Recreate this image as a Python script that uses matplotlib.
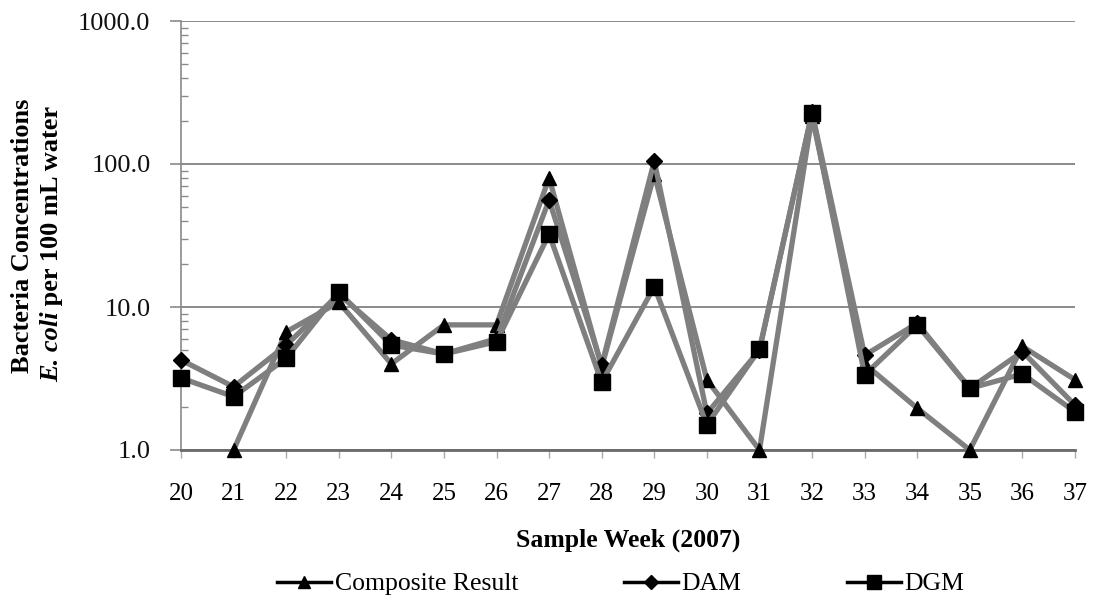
import numpy as np
import matplotlib
matplotlib.use("Agg")
import matplotlib.pyplot as plt
from matplotlib.lines import Line2D
from matplotlib.ticker import FixedLocator, FuncFormatter, LogLocator, NullFormatter

plt.rcParams['font.family'] = ['Liberation Serif', 'DejaVu Serif']

weeks = list(range(20, 38))
composite = [np.nan, 1.0, 6.7, 10.8, 4.0, 7.5, 7.5, 80, 3.8, 85, 3.1, 1.0, 215, 4.0, 1.96, 1.0, 5.3, 3.1]
dam = [4.26, 2.77, 5.4, 12.3, 5.9, 4.7, 6.0, 56, 3.93, 105, 1.8, 5.0, 230, 4.6, 7.7, 2.7, 4.87, 2.06]
dgm = [3.19, 2.36, 4.38, 12.7, 5.42, 4.69, 5.72, 32.4, 2.97, 13.9, 1.5, 5.06, 226, 3.35, 7.5, 2.7, 3.4, 1.85]
series_names = ["Composite Result", "DAM", "DGM"]
yticks = [1, 10, 100, 1000]

W, H = 1095, 605
fig = plt.figure(figsize=(W/100, H/100), dpi=100)
ax = fig.add_axes([181/W, 1-450/H, 894/W, 429/H])

line_col = '#7f7f7f'
specs = [(composite, '^', 10), (dam, 'D', 8), (dgm, 's', 11)]
for vals, mk, ms in specs:
    ax.plot(weeks, vals, color=line_col, lw=3.8, marker=mk, markersize=ms,
            markerfacecolor='black', markeredgecolor='black', zorder=3, clip_on=False)

ax.set_yscale('log')
ax.set_ylim(1, 1000)
ax.set_xlim(20, 37)
ax.yaxis.set_major_locator(FixedLocator(yticks))
ax.yaxis.set_major_formatter(FuncFormatter(lambda v, p: f"{v:.1f}"))
ax.yaxis.set_minor_locator(LogLocator(base=10, subs=np.arange(2, 10)))
ax.yaxis.set_minor_formatter(NullFormatter())
ax.set_xticks(weeks)
ax.set_xticklabels([str(w) for w in weeks])

ax.grid(axis='y', which='major', color='#8a8a8a', lw=1.4, zorder=1)
for s in ['top', 'right']:
    ax.spines[s].set_visible(False)
ax.spines['left'].set_color('#8a8a8a')
ax.spines['left'].set_linewidth(1.2)
ax.spines['bottom'].set_color('#6a6a6a')
ax.spines['bottom'].set_linewidth(2.0)

ax.tick_params(axis='y', which='major', length=8, width=1.2, color='#8a8a8a', labelsize=19, pad=14, direction='out')
ax.tick_params(axis='y', which='minor', length=5, width=1.0, color='#8a8a8a', direction='in')
ax.tick_params(axis='x', which='major', length=6, width=1.0, color='#aaaaaa', labelsize=18, pad=18)

for lbl in ax.get_yticklabels():
    lbl.set_color('#111111')

fig.text(628/W, 1-540/H, "Sample Week (2007)", fontsize=18.5, fontweight='bold',
         ha='center', va='center')

fig.text(23/W, 1-236/H, "Bacteria Concentrations", rotation=90, fontsize=19,
         fontweight='bold', ha='center', va='center')

# second y-label line: italic "E. coli" followed by bold text, laid out along the rotated line
renderer = fig.canvas.get_renderer()
part1 = "E. coli"
part2 = " per 100 mL water"
fs = 19
t1 = fig.text(0, 0, part1, fontsize=fs, fontweight='bold', fontstyle='italic')
t2 = fig.text(0, 0, part2, fontsize=fs, fontweight='bold')
w1 = t1.get_window_extent(renderer).width
w2 = t2.get_window_extent(renderer).width
t1.remove(); t2.remove()
total = w1 + w2
center_y = H - 244
base_x = 58
y0 = center_y - total / 2
fig.text(base_x/W, y0/H, part1, fontsize=fs, fontweight='bold', fontstyle='italic',
         rotation=90, rotation_mode='anchor', ha='left', va='baseline')
fig.text(base_x/W, (y0 + w1)/H, part2, fontsize=fs, fontweight='bold',
         rotation=90, rotation_mode='anchor', ha='left', va='baseline')

handles = [Line2D([], [], color='black', lw=2.5, marker=mk, markersize=ms*0.9,
                  markerfacecolor='black', markeredgecolor='black') for _, mk, ms in specs]
fig.legend(handles, series_names, loc='center left', bbox_to_anchor=(277/W, 1-584/H),
           ncol=3, frameon=False, fontsize=18.5, handlelength=2.1, handletextpad=0.15,
           columnspacing=4.1, borderpad=0, borderaxespad=0)

fig.savefig("out.png", dpi=100)
